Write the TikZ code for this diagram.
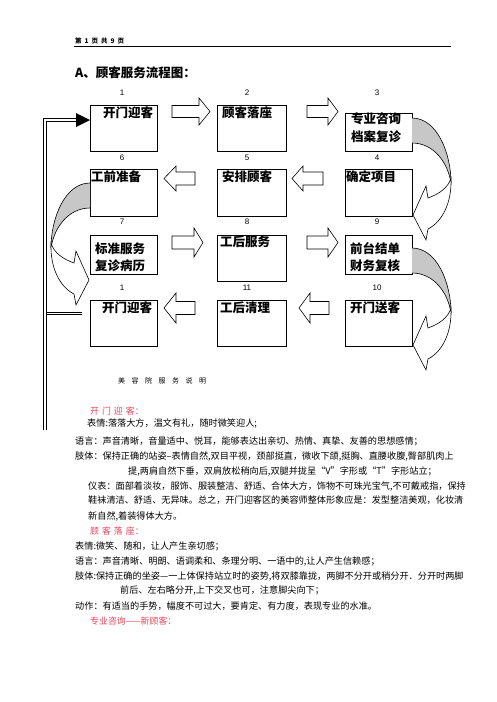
\documentclass[tikz,border=0pt]{standalone}
\usepackage{fontspec}
\setmainfont{Noto Sans CJK SC}
\newfontfamily\numf{Liberation Sans}
\definecolor{redt}{RGB}{234,66,92}
\tikzset{
  box/.style={draw, line width=0.8pt, anchor=north west, inner sep=0pt},
  btext/.style={anchor=west, inner sep=0pt, font=\fontsize{12.5}{13}\selectfont\bfseries},
  num/.style={inner sep=0pt, font=\numf\fontsize{8}{9}\selectfont},
  body/.style={anchor=west, inner sep=0pt, font=\fontsize{9.15}{10}\selectfont},
  rhead/.style={anchor=west, inner sep=0pt, text=redt, font=\fontsize{8.9}{10}\selectfont},
  barrow/.style={draw, line width=0.6pt, fill=white},
  dline/.style={draw, line width=0.9pt, double, double distance=1.3pt},
  curvarr/.pic={
    \fill[black!22] (0,0) .. controls (25,0) and (39,35) .. (39,65) .. controls (36,45) and (22,25) .. (0,25) -- cycle;
    \draw[line width=0.6pt] (0,0) .. controls (25,0) and (39,35) .. (39,65);
    \draw[line width=0.6pt] (0,25) .. controls (22,25) and (36,45) .. (39,65);
    \draw[line width=0.6pt, fill=white] (39,60) .. controls (40,85) and (30,104) .. (16,111) -- (14,122) -- (1,97) -- (14,68) -- (16,80) .. controls (27,76) and (36,70) .. (39,60) -- cycle;
  }
}
% tail x, head base x, tip x, centre y, shaft half, head half
\newcommand\blockarr[6]{\path[barrow] (#1,#4-#5) -- (#2,#4-#5) -- (#2,#4-#6) -- (#3,#4) -- (#2,#4+#6) -- (#2,#4+#5) -- (#1,#4+#5) -- cycle;}
\begin{document}
\begin{tikzpicture}[x=1pt,y=-1pt]
\useasboundingbox (0,0) rectangle (496,702);
\fill[white] (0,0) rectangle (496,702);
% header
\node[anchor=west, inner sep=0pt, font=\fontsize{6.5}{7}\selectfont\bfseries] (hdr) at (75,41) {第\hspace{3pt}1\hspace{3pt}页\hspace{3pt}共\hspace{3pt}9\hspace{3pt}页};
\coordinate (hl) at (74,46.5);
\coordinate (hr) at (451,46.5);
\draw[line width=0.8pt] (hl) -- (hr);
\node[anchor=west, inner sep=0pt, font=\fontsize{12.5}{13}\selectfont\bfseries] (title) at (75,73) {A、顾客服务流程图：};
% numbers
\node[num] (n1) at (122,93) {1};
\node[num] (n2) at (247,93) {2};
\node[num] (n3) at (377,93) {3};
\node[num] (n6) at (122,158) {6};
\node[num] (n5) at (247,158) {5};
\node[num] (n4) at (377,158) {4};
\node[num] (n7) at (122,222) {7};
\node[num] (n8) at (247,222) {8};
\node[num] (n9) at (377,222) {9};
\node[num] (n1b) at (122,288) {1};
\node[num] (n11) at (247,288) {11};
\node[num] (n10) at (377,288) {10};
% boxes
\node[box, minimum width=67pt, minimum height=46pt] (b1) at (90,105) {};
\node[box, minimum width=69pt, minimum height=46pt] (b2) at (217,105) {};
\node[box, minimum width=67pt, minimum height=38pt] (b3) at (345,113) {};
\node[box, minimum width=67pt, minimum height=47pt] (b6) at (90,169) {};
\node[box, minimum width=69pt, minimum height=47pt] (b5) at (217,169) {};
\node[box, minimum width=67pt, minimum height=47pt] (b4) at (345,169) {};
\node[box, minimum width=67pt, minimum height=39pt] (b7) at (90,235) {};
\node[box, minimum width=69pt, minimum height=46pt] (b8) at (217,235) {};
\node[box, minimum width=67pt, minimum height=39pt] (b9) at (345,235) {};
\node[box, minimum width=67pt, minimum height=46pt] (b1b) at (90,300) {};
\node[box, minimum width=69pt, minimum height=46pt] (b11) at (217,300) {};
\node[box, minimum width=67pt, minimum height=46pt] (b10) at (345,300) {};
% box texts
\node[btext] (t1) at (103,113) {开门迎客};
\node[btext] (t2) at (222,113) {顾客落座};
\node[btext] (t3a) at (351,119) {专业咨询};
\node[btext] (t3b) at (351,137) {档案复诊};
\node[btext] (t6) at (91,177) {工前准备};
\node[btext] (t5) at (222,177) {安排顾客};
\node[btext] (t4) at (346,177) {确定项目};
\node[btext] (t7a) at (95,249) {标准服务};
\node[btext] (t7b) at (95,266) {复诊病历};
\node[btext] (t8) at (220,242) {工后服务};
\node[btext] (t9a) at (350,249) {前台结单};
\node[btext] (t9b) at (350,266) {财务复核};
\node[btext] (t1c) at (102,308) {开门迎客};
\node[btext] (t11) at (220,308) {工后清理};
\node[btext] (t10) at (350,308) {开门送客};
% block arrows
\blockarr{172}{199}{210}{111.5}{6}{13.5}
\blockarr{307}{328}{338}{111.5}{6}{13.5}
\blockarr{195}{176}{164}{178.5}{6.5}{12.5}
\blockarr{323}{303}{292}{178.5}{6.5}{12.5}
\blockarr{172}{194}{203}{242.5}{6.5}{14.5}
\blockarr{307}{328}{338}{242.5}{6.5}{14.5}
\blockarr{195}{176}{164}{308}{6.5}{15}
\blockarr{329}{310}{299}{308}{6.5}{15}
% curved arrows
\pic (ca1) at (412,118) {curvarr};
\pic (ca2) at (412,248) {curvarr};
\pic[xscale=-1] (ca3) at (90,183) {curvarr};
% return line
\coordinate (rs) at (82,313.5);
\coordinate (rc1) at (45,313.5);
\coordinate (rbot) at (45,430);
\coordinate (rc2) at (45,120);
\coordinate (re) at (76,120);
\draw[dline] (rs) -- (rc1);
\draw[dline] (rbot) -- (rc2) -- (re);
\fill (76,113) -- (90,120) -- (76,127) -- cycle;
% description
\node[anchor=west, inner sep=0pt, font=\fontsize{7}{8}\selectfont] (sub) at (118,381) {美\hspace{6.5pt}容\hspace{6.5pt}院\hspace{6.5pt}服\hspace{6.5pt}务\hspace{6.5pt}说\hspace{6.5pt}明};
\node[rhead] (h1) at (90,411) {开\hspace{3pt}门\hspace{3pt}迎\hspace{3pt}客：};
\node[body] (l1) at (87,423.5) {表情:落落大方，温文有礼，随时微笑迎人;};
\node[body] (l2) at (75,441.5) {语言：声音清晰，音量适中、悦耳，能够表达出亲切、热情、真挚、友善的思想感情；};
\node[body] (l3) at (75,456.5) {肢体：保持正确的站姿--表情自然,双目平视，颈部挺直，微收下颌,挺胸、直腰收腹,臀部肌肉上};
\node[body] (l4) at (128,471.5) {提,两肩自然下垂，双肩放松稍向后,双腿并拢呈“V”字形或“T”字形站立；};
\node[body] (l5) at (88,486.5) {仪表：面部着淡妆，服饰、服装整洁、舒适、合体大方，饰物不可珠光宝气,不可戴戒指，保持};
\node[body] (l6) at (88,500.5) {鞋袜清洁、舒适、无异味。总之，开门迎客区的美容师整体形象应是：发型整洁美观，化妆清};
\node[body] (l7) at (88,516.5) {新自然,着装得体大方。};
\node[rhead] (h2) at (90,531.5) {顾\hspace{3pt}客\hspace{3pt}落\hspace{3pt}座：};
\node[body] (l8) at (75,546) {表情:微笑、随和，让人产生亲切感；};
\node[body] (l9) at (75,561.5) {语言：声音清晰、明朗、语调柔和、条理分明、一语中的,让人产生信赖感；};
\node[body] (l10) at (75,576) {肢体:保持正确的坐姿—一上体保持站立时的姿势,将双膝靠拢，两脚不分开或稍分开．分开时两脚};
\node[body] (l11) at (120,590.5) {前后、左右略分开,上下交叉也可，注意脚尖向下；};
\node[body] (l12) at (75,606.5) {动作：有适当的手势，幅度不可过大，要肯定、有力度，表现专业的水准。};
\node[rhead] (h3) at (90,621.5) {专业咨询——新顾客：};
\end{tikzpicture}
\end{document}
